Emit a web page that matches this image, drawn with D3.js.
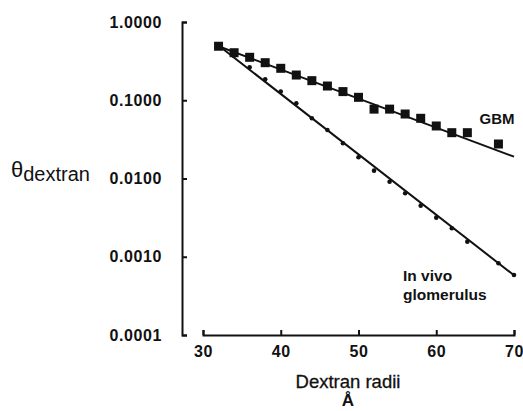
<!DOCTYPE html>
<html>
<head>
<meta charset="utf-8">
<script src="https://cdn.jsdelivr.net/npm/d3@7"></script>
<style>
  html, body { margin: 0; padding: 0; background: #fff; }
  svg { display: block; font-family: "Liberation Sans", Arial, Helvetica, sans-serif; }
</style>
</head>
<body>
<svg id="chart" width="523" height="411"></svg>
<script>
// ---- data ----
const gbmRadii = [32, 34, 36, 38, 40, 42, 44, 46, 48, 50, 52, 54, 56, 58, 60, 62, 64, 68];
const gbmTheta = [0.49, 0.405, 0.354, 0.302, 0.256, 0.210, 0.178, 0.152, 0.129, 0.109, 0.077, 0.077, 0.0667, 0.0588, 0.0469, 0.0385, 0.0385, 0.0276];
const vivoRadii = [32, 34, 36, 38, 40, 42, 44, 46, 48, 50, 52, 54, 56, 58, 60, 62, 64, 68, 70];
const vivoTheta = [0.49, 0.37, 0.264, 0.185, 0.129, 0.0914, 0.0588, 0.0417, 0.0282, 0.0187, 0.0126, 0.0091, 0.00647, 0.0045, 0.00316, 0.00231, 0.00156, 0.000826, 0.000585];
const gbmFitRadii = [32, 70];
const gbmFitTheta = [0.49, 0.019];
const vivoFitRadii = [32, 70];
const vivoFitTheta = [0.50, 0.00058];
const xTicks = [30, 40, 50, 60, 70];
const yTicks = [1, 0.1, 0.01, 0.001, 0.0001];
const yTickLabels = ["1.0000", "0.1000", "0.0100", "0.0010", "0.0001"];

// ---- scales ----
const svg = d3.select("#chart");
const x = d3.scaleLinear().domain([30, 70]).range([203, 514]);
const y = d3.scaleLog().domain([0.0001, 1]).range([335, 22]);

// ---- axes ----
const yAxis = d3.axisLeft(y)
  .tickValues(yTicks)
  .tickFormat((d, i) => yTickLabels[i])
  .tickSizeInner(-5).tickSizeOuter(-5).tickPadding(20);
const gy = svg.append("g").attr("transform", "translate(182,0)").call(yAxis);

const xAxis = d3.axisBottom(x)
  .tickValues(xTicks)
  .tickFormat(d3.format("d"))
  .tickSizeInner(-5).tickSizeOuter(-5).tickPadding(11);
const gx = svg.append("g").attr("transform", "translate(0,335)").call(xAxis);

[gx, gy].forEach(g => {
  g.select(".domain").attr("stroke", "#111").attr("stroke-width", 2);
  g.selectAll(".tick line").attr("stroke", "#111").attr("stroke-width", 2);
  g.selectAll(".tick text")
    .attr("fill", "#111")
    .style("font-size", "16px")
    .style("font-weight", "bold")
    .style("letter-spacing", "0.6px");
});

// ---- fitted lines ----
const line = d3.line().x(d => x(d[0])).y(d => y(d[1]));
svg.append("path")
  .datum(gbmFitRadii.map((r, i) => [r, gbmFitTheta[i]]))
  .attr("d", line).attr("fill", "none").attr("stroke", "#111").attr("stroke-width", 2);
svg.append("path")
  .datum(vivoFitRadii.map((r, i) => [r, vivoFitTheta[i]]))
  .attr("d", line).attr("fill", "none").attr("stroke", "#111").attr("stroke-width", 2);

// ---- markers ----
svg.append("g").selectAll("rect")
  .data(gbmRadii.map((r, i) => [r, gbmTheta[i]]))
  .join("rect")
  .attr("x", d => x(d[0]) - 4.5)
  .attr("y", d => y(d[1]) - 4.5)
  .attr("width", 9).attr("height", 9)
  .attr("fill", "#111");

svg.append("g").selectAll("circle")
  .data(vivoRadii.map((r, i) => [r, vivoTheta[i]]))
  .join("circle")
  .attr("cx", d => x(d[0]))
  .attr("cy", d => y(d[1]))
  .attr("r", 2.3)
  .attr("fill", "#111");

// ---- labels ----
svg.append("text").attr("x", 497).attr("y", 124).attr("text-anchor", "middle")
  .style("font-size", "15px").style("font-weight", "bold").attr("fill", "#111").text("GBM");
svg.append("text").attr("x", 403).attr("y", 281)
  .style("font-size", "15.5px").style("font-weight", "bold").attr("fill", "#111").text("In vivo");
svg.append("text").attr("x", 403).attr("y", 300)
  .style("font-size", "15.5px").style("font-weight", "bold").attr("fill", "#111").text("glomerulus");

svg.append("text").attr("x", 348).attr("y", 388).attr("text-anchor", "middle")
  .style("font-size", "18.5px").attr("fill", "#111").attr("stroke", "#111").attr("stroke-width", 0.3)
  .text("Dextran radii");
svg.append("text").attr("x", 348).attr("y", 406).attr("text-anchor", "middle")
  .style("font-size", "17px").style("font-weight", "bold").attr("fill", "#111").text("Å");

const yl = svg.append("text").attr("x", 11).attr("y", 177).attr("fill", "#111");
yl.append("tspan").style("font-size", "22px").text("θ");
yl.append("tspan").attr("dy", 4).style("font-size", "20px").text("dextran");
</script>
</body>
</html>
